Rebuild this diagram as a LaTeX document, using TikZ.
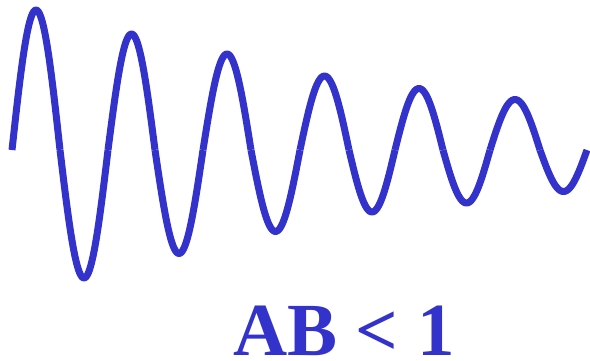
\documentclass[tikz,border=0pt]{standalone}
\usepackage{fontspec}
\setmainfont{Liberation Serif}
\definecolor{wave}{RGB}{51,51,204}
\begin{document}
\begin{tikzpicture}[x=1pt,y=1pt,
  wavepath/.style={draw=wave, line width=7pt, line cap=butt, line join=round},
  labeltext/.style={text=wave, font=\fontsize{75}{80}\selectfont\bfseries, anchor=base, inner sep=0pt}]
\useasboundingbox (0,0) rectangle (590,360);
\foreach \a/\b/\h in {12/60/140, 60/108/-128, 108/155/116, 155/203/-103.5, 203/251/96, 251/300/-81.5, 300/349/74, 349/395/-62, 395/443/61.5, 443/490/-53, 490/540/50.5, 540/587/-41.5}{
  \draw[wavepath] plot[domain=0:1, samples=50, smooth] ({\a+\x*(\b-\a)}, {210+\h*sin(180*\x)});
}
\node[labeltext] (label) at (344,5) {AB < 1};
\end{tikzpicture}
\end{document}
